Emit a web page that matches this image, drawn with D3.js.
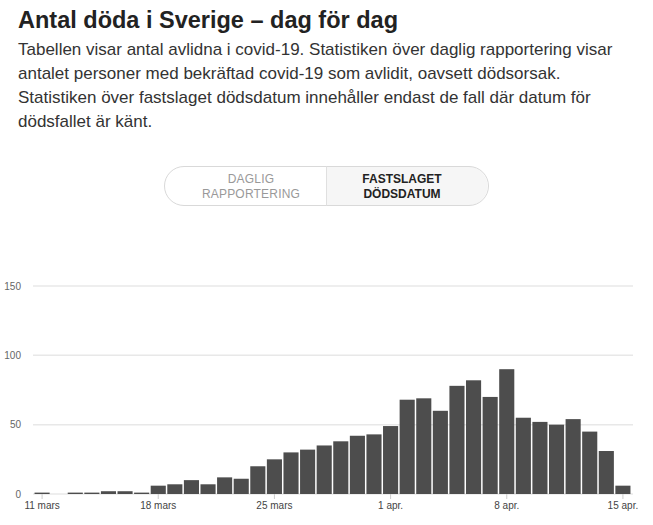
<!DOCTYPE html>
<html lang="sv">
<head>
<meta charset="UTF-8">
<title>Antal döda i Sverige – dag för dag</title>
<style>
    body { margin: 0; background: #fff; }
    svg { display: block; font-family: "Liberation Sans", Arial, sans-serif; }
    .title { font-size: 23.5px; font-weight: bold; fill: #222; }
    .desc { font-size: 17px; fill: #333; }
    .btn { font-size: 12px; letter-spacing: 0.2px; }
    .grid line { stroke: #e8e8e8; stroke-width: 1.5px; }
    .ylab { font-size: 10px; fill: #666; }
    .xaxis text { font-size: 10px; fill: #444; }
    .xaxis line { stroke: #ccc; }
</style>
<script src="https://d3js.org/d3.v7.min.js"></script>
</head>
<body>
<script>
const days = [
    "2020-03-11", "2020-03-12", "2020-03-13", "2020-03-14", "2020-03-15", "2020-03-16",
    "2020-03-17", "2020-03-18", "2020-03-19", "2020-03-20", "2020-03-21", "2020-03-22",
    "2020-03-23", "2020-03-24", "2020-03-25", "2020-03-26", "2020-03-27", "2020-03-28",
    "2020-03-29", "2020-03-30", "2020-03-31", "2020-04-01", "2020-04-02", "2020-04-03",
    "2020-04-04", "2020-04-05", "2020-04-06", "2020-04-07", "2020-04-08", "2020-04-09",
    "2020-04-10", "2020-04-11", "2020-04-12", "2020-04-13", "2020-04-14", "2020-04-15"
];
const deaths = [
    1, 0, 1, 1, 2, 2,
    1, 6, 7, 10, 7, 12,
    11, 20, 25, 30, 32, 35,
    38, 42, 43, 49, 68, 69,
    60, 78, 82, 70, 90, 55,
    52, 50, 54, 45, 31, 6
];
const yTicks = [0, 50, 100, 150];
const xTicks = ["2020-03-11", "2020-03-18", "2020-03-25", "2020-04-01", "2020-04-08", "2020-04-15"];
const xTickLabels = ["11 mars", "18 mars", "25 mars", "1 apr.", "8 apr.", "15 apr."];

const descLines = [
    "Tabellen visar antal avlidna i covid-19. Statistiken över daglig rapportering visar",
    "antalet personer med bekräftad covid-19 som avlidit, oavsett dödsorsak.",
    "Statistiken över fastslaget dödsdatum innehåller endast de fall där datum för",
    "dödsfallet är känt."
];

const width = 653, height = 525;
const svg = d3.select("body").append("svg")
    .attr("width", width)
    .attr("height", height);

// heading + text
svg.append("text").attr("class", "title")
    .attr("x", 18).attr("y", 28)
    .text("Antal döda i Sverige – dag för dag");

svg.append("g").selectAll("text")
    .data(descLines)
    .join("text")
    .attr("class", "desc")
    .attr("x", 18)
    .attr("y", (d, i) => 55 + i * 24)
    .text(d => d);

// toggle buttons
const tg = svg.append("g");
tg.append("path")
    .attr("d", "M326,166.5 H468 A19.5,19.5 0 0 1 468,205.5 H326 Z")
    .attr("fill", "#f6f6f6");
tg.append("rect")
    .attr("x", 164.5).attr("y", 166.5)
    .attr("width", 324).attr("height", 39)
    .attr("rx", 19.5)
    .attr("fill", "none")
    .attr("stroke", "#d9d9d9");
tg.append("line")
    .attr("x1", 326.5).attr("x2", 326.5)
    .attr("y1", 166.5).attr("y2", 205.5)
    .attr("stroke", "#e0e0e0");
["DAGLIG", "RAPPORTERING"].forEach((t, i) =>
    tg.append("text").attr("class", "btn")
        .attr("x", 251).attr("y", 183 + i * 14.5)
        .attr("text-anchor", "middle").attr("fill", "#999")
        .text(t));
["FASTSLAGET", "DÖDSDATUM"].forEach((t, i) =>
    tg.append("text").attr("class", "btn")
        .attr("x", 402).attr("y", 183 + i * 14.5)
        .attr("text-anchor", "middle").attr("fill", "#222")
        .attr("font-weight", "bold")
        .style("letter-spacing", "0px")
        .text(t));

// chart
const x = d3.scaleBand()
    .domain(days)
    .range([33.7, 631.3])
    .paddingInner(0.09)
    .paddingOuter(0.05);

const y = d3.scaleLinear()
    .domain([0, 150])
    .range([494, 286]);

const grid = svg.append("g").attr("class", "grid");
grid.selectAll("line")
    .data(yTicks)
    .join("line")
    .attr("x1", 33).attr("x2", 633)
    .attr("y1", d => y(d)).attr("y2", d => y(d));

svg.append("g").selectAll("text")
    .data(yTicks)
    .join("text")
    .attr("class", "ylab")
    .attr("x", 21)
    .attr("y", d => y(d) + 3.5)
    .attr("text-anchor", "end")
    .text(d => d);

svg.append("g").selectAll("rect")
    .data(days)
    .join("rect")
    .attr("x", d => x(d))
    .attr("width", x.bandwidth())
    .attr("y", (d, i) => y(deaths[i]))
    .attr("height", (d, i) => y(0) - y(deaths[i]))
    .attr("fill", "#4d4d4d");

const xAxis = d3.axisBottom(x)
    .tickValues(xTicks)
    .tickFormat((d, i) => xTickLabels[i])
    .tickSize(5)
    .tickPadding(3);

svg.append("g")
    .attr("class", "xaxis")
    .attr("transform", "translate(0,494)")
    .call(xAxis)
    .call(g => g.select(".domain").remove());
</script>
</body>
</html>
